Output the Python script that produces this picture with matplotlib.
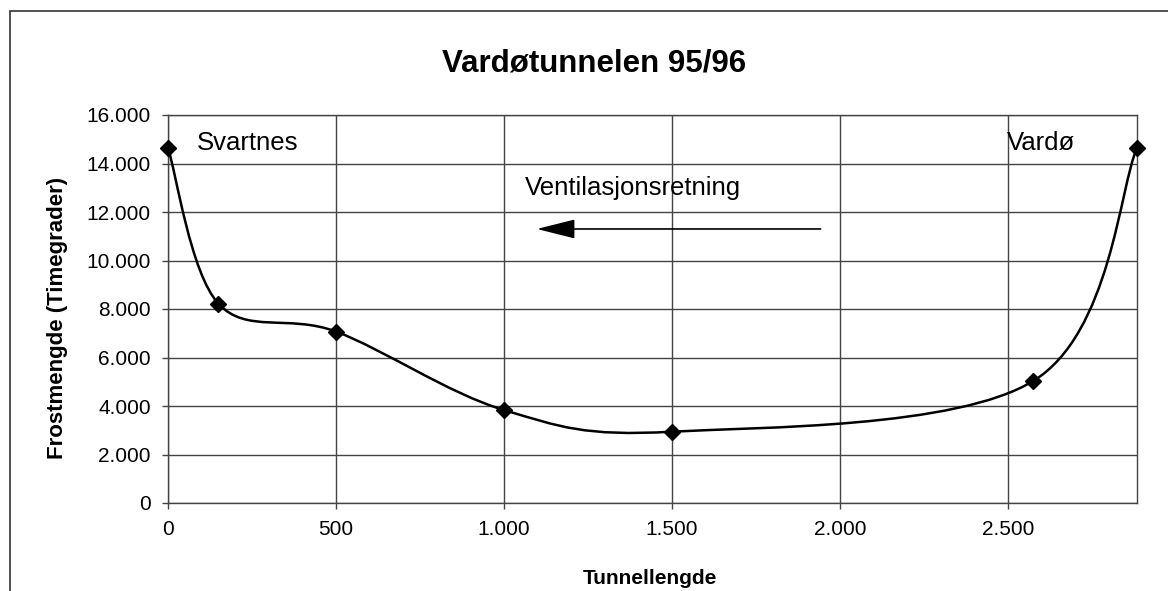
import numpy as np
import matplotlib.pyplot as plt
from matplotlib.path import Path
from matplotlib.patches import PathPatch, Rectangle
from matplotlib.ticker import FuncFormatter, MultipleLocator

plt.rcParams['font.family'] = ['Liberation Sans', 'DejaVu Sans']

# data
tunnel_pos = [0, 150, 500, 1000, 1500, 2576, 2885]
frost = [14650, 8220, 7070, 3835, 2940, 5031, 14650]

title = 'Vardøtunnelen 95/96'
xlabel = 'Tunnellengde'
ylabel = 'Frostmengde (Timegrader)'
notes = {'Svartnes': (86, 14850), 'Vardø': (2497, 14850),
         'Ventilasjonsretning': (1062, 12990)}
arrow_from = (1943, 11300)
arrow_to = (1098, 11300)

grid_col = '#444444'


def thousands(v, pos):
    return f'{v:,.0f}'.replace(',', '.')


def smooth_path(xs, ys):
    # Excel style smoothed line: cubic bezier, control points at 1/6 of
    # the neighbour difference, end points reuse themselves
    p = np.column_stack([xs, ys]).astype(float)
    n = len(p)
    verts = [p[0]]
    codes = [Path.MOVETO]
    for i in range(n - 1):
        prev = p[i - 1] if i > 0 else p[i]
        nxt = p[i + 2] if i + 2 < n else p[i + 1]
        c1 = p[i] + (p[i + 1] - prev) / 6
        c2 = p[i + 1] - (nxt - p[i]) / 6
        verts += [c1, c2, p[i + 1]]
        codes += [Path.CURVE4] * 3
    return Path(verts, codes)


fig = plt.figure(figsize=(11.68, 5.91), dpi=100)
ax = fig.add_axes([168 / 1168, 88 / 591, 969 / 1168, 388 / 591])

ax.add_patch(PathPatch(smooth_path(tunnel_pos, frost), facecolor='none',
                       edgecolor='black', lw=1.8, zorder=3))
ax.plot(tunnel_pos, frost, linestyle='none', marker='D', markersize=8,
        color='black', zorder=4, clip_on=False)

ax.set_xlim(0, tunnel_pos[-1])
ax.set_ylim(0, 16000)
ax.xaxis.set_major_locator(MultipleLocator(500))
ax.yaxis.set_major_locator(MultipleLocator(2000))
ax.xaxis.set_major_formatter(FuncFormatter(thousands))
ax.yaxis.set_major_formatter(FuncFormatter(thousands))
ax.grid(True, color=grid_col, lw=1.0)
ax.set_axisbelow(True)
for s in ax.spines.values():
    s.set_color(grid_col)
    s.set_linewidth(1.0)
ax.tick_params(direction='out', length=4.5, width=1, color=grid_col,
               labelsize=15, pad=8)

for txt, (x, y) in notes.items():
    ax.text(x, y, txt, fontsize=18.5, ha='left', va='center')

ax.annotate('', xy=arrow_to, xytext=arrow_from,
            arrowprops=dict(arrowstyle='-|>,head_length=1.2,head_width=0.3',
                            mutation_scale=20, lw=1.2, color='black',
                            shrinkA=0, shrinkB=0))

fig.text(594 / 1168, 1 - 64 / 591, title, fontsize=22.5, fontweight='bold',
         ha='center', va='center')
fig.text(650 / 1168, 1 - 578 / 591, xlabel, fontsize=15, fontweight='bold',
         ha='center', va='center')
fig.text(58 / 1168, 1 - 318 / 591, ylabel, fontsize=16, fontweight='bold',
         ha='center', va='center', rotation=90)

# chart area frame (right and bottom edges fall outside the picture)
fig.add_artist(Rectangle((10 / 1168, -0.2), 1.2, 1.2 - 11 / 591,
                         transform=fig.transFigure, fill=False,
                         edgecolor='#333333', lw=1.2))

fig.savefig('out.png', dpi=100)
